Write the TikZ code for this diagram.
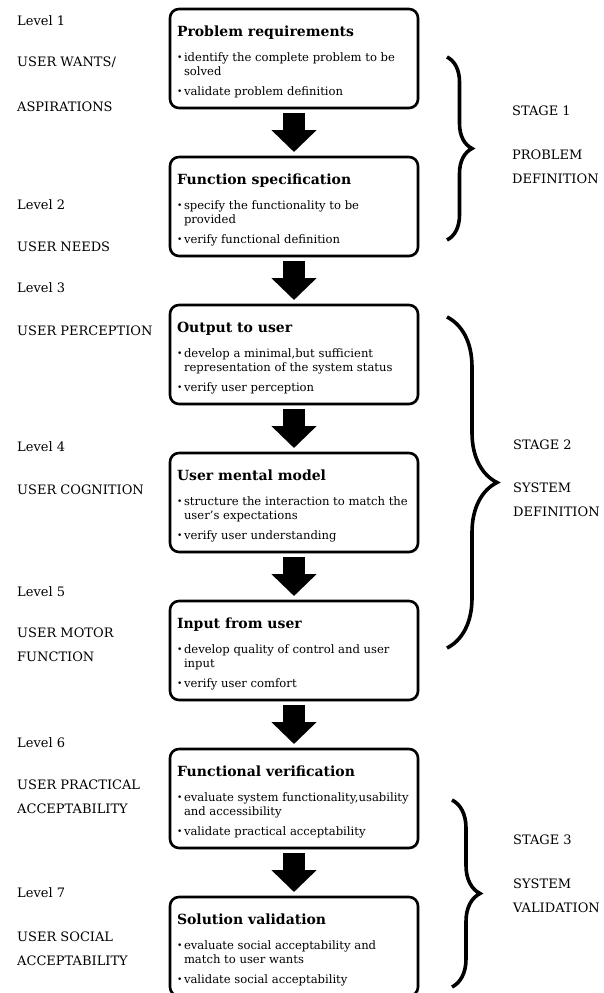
\documentclass[tikz,border=0pt]{standalone}
\usepackage{fontspec}
\setmainfont{DejaVu Serif}
\usetikzlibrary{arrows.meta, positioning, decorations.pathreplacing, shadows}

\newcommand{\boxhead}[1]{\rule{0pt}{27pt}{\fontsize{14}{16}\selectfont\bfseries #1}\par\vspace{6pt}}
\newcommand{\bitem}[1]{\par\vspace{5pt}\noindent\makebox[7pt][l]{\raisebox{0.5pt}{\fontsize{9}{9}\selectfont\textbullet}}\begin{tabular}[t]{@{}l@{}}#1\end{tabular}}
\newcommand{\boxtext}[1]{\parbox[c][99pt][t]{234pt}{\raggedright\noindent #1}}

\begin{document}
\begin{tikzpicture}[x=1pt, y=-1pt,
node distance=49pt,
stepbox/.style={draw,
rounded corners=9pt,
line width=2.6pt,
outer sep=0pt,
fill=white,
drop shadow={opacity=0.18, shadow xshift=1.5pt, shadow yshift=-1.5pt},
inner xsep=7pt,
inner ysep=0pt,
font={\fontsize{11.6}{14}\selectfont}},
flow/.style={line width=22pt, -{Triangle[width=44pt, length=22pt]}, shorten <=5pt, shorten >=5pt},
side/.style={anchor=west, inner sep=0pt, align=left, font={\fontsize{13}{24}\selectfont}},
bracket/.style={decorate, decoration={brace, amplitude=#1}, line width=3.6pt}
]
\useasboundingbox (0,0) rectangle (604,993);

% levels of the design process
\node[stepbox, anchor=north] (b1) at (294,9) {\boxtext{\boxhead{Problem requirements}\bitem{identify the complete problem to be\\solved}\bitem{validate problem definition}}};
\node[stepbox, below=of b1] (b2) {\boxtext{\boxhead{Function specification}\bitem{specify the functionality to be\\provided}\bitem{verify functional definition}}};
\node[stepbox, below=of b2] (b3) {\boxtext{\boxhead{Output to user}\bitem{develop a minimal,but sufficient\\representation of the system status}\bitem{verify user perception}}};
\node[stepbox, below=of b3] (b4) {\boxtext{\boxhead{User mental model}\bitem{structure the interaction to match the\\user's expectations}\bitem{verify user understanding}}};
\node[stepbox, below=of b4] (b5) {\boxtext{\boxhead{Input from user}\bitem{develop quality of control and user\\input}\bitem{verify user comfort}}};
\node[stepbox, below=of b5] (b6) {\boxtext{\boxhead{Functional verification}\bitem{evaluate system functionality,usability\\and accessibility}\bitem{validate practical acceptability}}};
\node[stepbox, below=of b6] (b7) {\boxtext{\boxhead{Solution validation}\bitem{evaluate social acceptability and\\match to user wants}\bitem{validate social acceptability}}};

\draw[flow] (b1) -- (b2);
\draw[flow] (b2) -- (b3);
\draw[flow] (b3) -- (b4);
\draw[flow] (b4) -- (b5);
\draw[flow] (b5) -- (b6);
\draw[flow] (b6) -- (b7);

% user side
\node[side] (lv1) at (17,21) {Level 1};
\node[side] (uw) at (17,62) {USER WANTS/};
\node[side] (ua) at (17,107) {ASPIRATIONS};
\node[side] (lv2) at (17,205) {Level 2};
\node[side] (un) at (17,247) {USER NEEDS};
\node[side] (lv3) at (17,288) {Level 3};
\node[side] (up) at (17,331) {USER PERCEPTION};
\node[side] (lv4) at (17,447) {Level 4};
\node[side] (uc) at (17,490) {USER COGNITION};
\node[side] (lv5) at (17,592) {Level 5};
\node[side] (um) at (17,645) {USER MOTOR\\FUNCTION};
\node[side] (lv6) at (17,743) {Level 6};
\node[side] (upa) at (17,797) {USER PRACTICAL\\ACCEPTABILITY};
\node[side] (lv7) at (17,893) {Level 7};
\node[side] (usa) at (17,949) {USER SOCIAL\\ACCEPTABILITY};

% stages
\draw[bracket=25pt] (447,57) -- (447,240);
\draw[bracket=50pt] (447,317) -- (447,648);
\draw[bracket=28pt] (452,800) -- (452,987);

\node[side] (st1) at (512,111) {STAGE 1};
\node[side] (pd) at (512,167) {PROBLEM\\DEFINITION};
\node[side] (st2) at (513,445) {STAGE 2};
\node[side] (sd) at (513,500) {SYSTEM\\DEFINITION};
\node[side] (st3) at (513,840) {STAGE 3};
\node[side] (sv) at (513,896) {SYSTEM\\VALIDATION};
\end{tikzpicture}
\end{document}
